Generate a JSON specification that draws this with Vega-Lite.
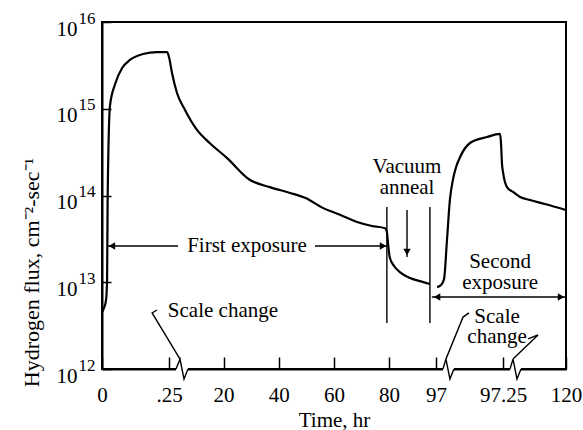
{
  "$schema": "https://vega.github.io/schema/vega-lite/v6.json",
  "width": 464,
  "height": 347,
  "autosize": {"type": "none"},
  "padding": {"left": 102, "top": 22, "right": 17, "bottom": 61},
  "background": "white",
  "config": {
    "font": "Liberation Serif",
    "view": {"stroke": "black", "strokeWidth": 2},
    "axis": {
      "grid": false,
      "domainColor": "black",
      "domainWidth": 2,
      "tickColor": "black",
      "tickWidth": 1.5,
      "labelColor": "black",
      "labelFontSize": 21,
      "titleColor": "black",
      "titleFontSize": 21,
      "titleFontWeight": "normal"
    }
  },
  "datasets": {
    "curve": [
      {"run": "first", "t": 0, "flux": 4.5e12},
      {"run": "first", "t": 0.0075, "flux": 5.05e12},
      {"run": "first", "t": 0.015, "flux": 6.24e12},
      {"run": "first", "t": 0.019, "flux": 1.06e13},
      {"run": "first", "t": 0.021, "flux": 8.9e13},
      {"run": "first", "t": 0.03, "flux": 1.1e15},
      {"run": "first", "t": 0.049, "flux": 1.93e15},
      {"run": "first", "t": 0.075, "flux": 2.95e15},
      {"run": "first", "t": 0.104, "flux": 3.65e15},
      {"run": "first", "t": 0.153, "flux": 4.27e15},
      {"run": "first", "t": 0.205, "flux": 4.5e15},
      {"run": "first", "t": 0.243, "flux": 4.5e15},
      {"run": "first", "t": 0.25, "flux": 3.95e15},
      {"run": "first", "t": 1.34, "flux": 2.58e15},
      {"run": "first", "t": 3.15, "flux": 1.52e15},
      {"run": "first", "t": 6.05, "flux": 9.7e14},
      {"run": "first", "t": 10.4, "flux": 5.7e14},
      {"run": "first", "t": 15.1, "flux": 4.0e14},
      {"run": "first", "t": 21.3, "flux": 2.7e14},
      {"run": "first", "t": 29.6, "flux": 1.51e14},
      {"run": "first", "t": 36.8, "flux": 1.25e14},
      {"run": "first", "t": 44.1, "flux": 1.07e14},
      {"run": "first", "t": 49.5, "flux": 9.4e13},
      {"run": "first", "t": 56.0, "flux": 7.2e13},
      {"run": "first", "t": 62.2, "flux": 6.0e13},
      {"run": "first", "t": 68.4, "flux": 4.95e13},
      {"run": "first", "t": 73.8, "flux": 4.45e13},
      {"run": "first", "t": 78.5, "flux": 4.2e13},
      {"run": "first", "t": 79.2, "flux": 3.8e13},
      {"run": "first", "t": 79.6, "flux": 2.83e13},
      {"run": "first", "t": 80.3, "flux": 1.9e13},
      {"run": "first", "t": 81.8, "flux": 1.54e13},
      {"run": "first", "t": 83.9, "flux": 1.31e13},
      {"run": "first", "t": 87.6, "flux": 1.12e13},
      {"run": "first", "t": 91.2, "flux": 1.03e13},
      {"run": "first", "t": 94.8, "flux": 9.55e12},
      {"run": "second", "t": 97.004, "flux": 8.8e12},
      {"run": "second", "t": 97.019, "flux": 9.3e12},
      {"run": "second", "t": 97.03, "flux": 1.09e13},
      {"run": "second", "t": 97.041, "flux": 3.07e13},
      {"run": "second", "t": 97.052, "flux": 9.0e13},
      {"run": "second", "t": 97.063, "flux": 1.51e14},
      {"run": "second", "t": 97.075, "flux": 2.13e14},
      {"run": "second", "t": 97.09, "flux": 2.78e14},
      {"run": "second", "t": 97.127, "flux": 4.03e14},
      {"run": "second", "t": 97.19, "flux": 4.72e14},
      {"run": "second", "t": 97.239, "flux": 5.12e14},
      {"run": "second", "t": 97.243, "flux": 3.82e14},
      {"run": "second", "t": 97.246, "flux": 2.37e14},
      {"run": "second", "t": 97.25, "flux": 1.87e14},
      {"run": "second", "t": 98.69, "flux": 1.25e14},
      {"run": "second", "t": 100.86, "flux": 1.1e14},
      {"run": "second", "t": 103.4, "flux": 9.6e13},
      {"run": "second", "t": 107.0, "flux": 8.87e13},
      {"run": "second", "t": 112.4, "flux": 7.98e13},
      {"run": "second", "t": 120, "flux": 6.81e13}
    ],
    "gaps": [
      {"brk": "a", "t": 2.79, "flux": 1e12},
      {"brk": "a", "t": 7.13, "flux": 1e12},
      {"brk": "b", "t": 97.026, "flux": 1e12},
      {"brk": "b", "t": 97.067, "flux": 1e12},
      {"brk": "c", "t": 99.78, "flux": 1e12},
      {"brk": "c", "t": 103.75, "flux": 1e12}
    ],
    "strokes": [
      {"path": "fe_left", "k": 0, "t": 0.022, "flux": 2.62e13},
      {"path": "fe_left", "k": 1, "t": 3.51, "flux": 2.62e13},
      {"path": "fe_right", "k": 0, "t": 53.15, "flux": 2.62e13},
      {"path": "fe_right", "k": 1, "t": 79.2, "flux": 2.62e13},
      {"path": "bar80", "k": 0, "t": 79.2, "flux": 7.36e13},
      {"path": "bar80", "k": 1, "t": 79.2, "flux": 3.39e12},
      {"path": "bar97", "k": 0, "t": 94.8, "flux": 7.36e13},
      {"path": "bar97", "k": 1, "t": 94.8, "flux": 3.39e12},
      {"path": "anneal", "k": 0, "t": 86.5, "flux": 6.81e13},
      {"path": "anneal", "k": 1, "t": 86.5, "flux": 1.95e13},
      {"path": "se", "k": 0, "t": 95.5, "flux": 6.76e12},
      {"path": "se", "k": 1, "t": 120, "flux": 6.76e12},
      {"path": "lead1", "k": 0, "t": 0.205, "flux": 4.79e12},
      {"path": "lead1", "k": 1, "t": 0.187, "flux": 4.43e12},
      {"path": "lead1", "k": 2, "t": 4.24, "flux": 1.3e12},
      {"path": "lead2", "k": 0, "t": 97.123, "flux": 4.43e12},
      {"path": "lead2", "k": 1, "t": 97.101, "flux": 3.97e12},
      {"path": "lead2", "k": 2, "t": 97.037, "flux": 1.3e12},
      {"path": "lead3", "k": 0, "t": 106.3, "flux": 2.22e12},
      {"path": "lead3", "k": 1, "t": 109.9, "flux": 2.47e12},
      {"path": "lead3", "k": 2, "t": 100.86, "flux": 1.3e12},
      {"path": "zig1", "k": 0, "t": 2.79, "flux": 1e12},
      {"path": "zig1", "k": 1, "t": 4.24, "flux": 1.3e12},
      {"path": "zig1", "k": 2, "t": 5.68, "flux": 7.67e11},
      {"path": "zig1", "k": 3, "t": 7.13, "flux": 1e12},
      {"path": "zig2", "k": 0, "t": 97.026, "flux": 1e12},
      {"path": "zig2", "k": 1, "t": 97.037, "flux": 1.3e12},
      {"path": "zig2", "k": 2, "t": 97.052, "flux": 7.67e11},
      {"path": "zig2", "k": 3, "t": 97.067, "flux": 1e12},
      {"path": "zig3", "k": 0, "t": 99.78, "flux": 1e12},
      {"path": "zig3", "k": 1, "t": 100.86, "flux": 1.3e12},
      {"path": "zig3", "k": 2, "t": 102.3, "flux": 7.67e11},
      {"path": "zig3", "k": 3, "t": 103.75, "flux": 1e12}
    ],
    "heads": [
      {"dir": "left", "t": 0.037, "flux": 2.62e13},
      {"dir": "right", "t": 77.8, "flux": 2.62e13},
      {"dir": "down", "t": 86.5, "flux": 2.23e13},
      {"dir": "left", "t": 97.004, "flux": 6.76e12},
      {"dir": "right", "t": 118.2, "flux": 6.76e12}
    ],
    "notes": [
      {"text": "First exposure", "t": 28.5, "flux": 2.62e13},
      {"text": "Vacuum", "t": 86.5, "flux": 2.13e14},
      {"text": "anneal", "t": 86.5, "flux": 1.22e14},
      {"text": "Second", "t": 97.239, "flux": 1.71e13},
      {"text": "exposure", "t": 97.239, "flux": 9.8e12},
      {"text": "Scale change", "t": 19.8, "flux": 4.67e12},
      {"text": "Scale", "t": 97.228, "flux": 3.97e12},
      {"text": "change", "t": 97.228, "flux": 2.34e12}
    ]
  },
  "encoding": {
    "x": {
      "field": "t",
      "type": "quantitative",
      "title": "Time, hr",
      "scale": {"domain": [0, 0.25, 97, 97.25, 120], "range": [0, 67, 334, 401, 464]},
      "axis": {
        "values": [0, 0.25, 20, 40, 60, 80, 97, 97.25, 120],
        "labelExpr": "datum.value == 0.25 ? '.25' : toString(datum.value)",
        "tickSize": -12,
        "labelPadding": 27,
        "labelFlush": false,
        "labelOverlap": false,
        "titlePadding": 4
      }
    }
  },
  "resolve": {"axis": {"y": "independent"}},
  "layer": [
    {
      "data": {"name": "gaps"},
      "mark": {"type": "line", "color": "white", "strokeWidth": 5, "clip": false},
      "encoding": {
        "y": {
          "field": "flux",
          "type": "quantitative",
          "scale": {"type": "log", "domain": [1e12, 1e16], "nice": false},
          "axis": {
            "orient": "left",
            "title": null,
            "values": [1e12, 1e13, 1e14, 1e15, 1e16],
            "labelExpr": "toString(round(log(datum.value) / LN10))",
            "labelFontSize": 17,
            "domain": false,
            "ticks": false,
            "tickSize": 0,
            "labelPadding": 7,
            "labelOffset": -4
          }
        },
        "detail": {"field": "brk"}
      }
    },
    {
      "data": {"name": "curve"},
      "mark": {"type": "line", "color": "black", "strokeWidth": 2.2, "interpolate": "monotone", "clip": false},
      "encoding": {
        "y": {
          "field": "flux",
          "type": "quantitative",
          "title": "Hydrogen flux, cm⁻²-sec⁻¹",
          "scale": {"type": "log", "domain": [1e12, 1e16], "nice": false},
          "axis": {
            "orient": "left",
            "values": [1e12, 1e13, 1e14, 1e15, 1e16],
            "labelExpr": "'10'",
            "tickSize": -9,
            "labelPadding": 34,
            "labelOffset": 7,
            "titlePadding": 13,
            "titleFontSize": 22,
            "titleY": 250
          }
        },
        "detail": {"field": "run"}
      }
    },
    {
      "data": {"name": "strokes"},
      "mark": {"type": "line", "color": "black", "strokeWidth": 1.4, "clip": false},
      "encoding": {
        "y": {"field": "flux", "type": "quantitative", "scale": {"type": "log", "domain": [1e12, 1e16], "nice": false}, "axis": null},
        "detail": {"field": "path"},
        "order": {"field": "k"}
      }
    },
    {
      "data": {"name": "heads"},
      "mark": {"type": "point", "filled": true, "color": "black", "opacity": 1, "size": 55},
      "encoding": {
        "y": {"field": "flux", "type": "quantitative", "scale": {"type": "log", "domain": [1e12, 1e16], "nice": false}, "axis": null},
        "shape": {
          "field": "dir",
          "scale": {"domain": ["left", "right", "down"], "range": ["triangle-left", "triangle-right", "triangle-down"]},
          "legend": null
        }
      }
    },
    {
      "data": {"name": "notes"},
      "mark": {"type": "text", "fontSize": 21, "color": "black", "align": "center", "baseline": "middle"},
      "encoding": {
        "y": {"field": "flux", "type": "quantitative", "scale": {"type": "log", "domain": [1e12, 1e16], "nice": false}, "axis": null},
        "text": {"field": "text"}
      }
    }
  ]
}
